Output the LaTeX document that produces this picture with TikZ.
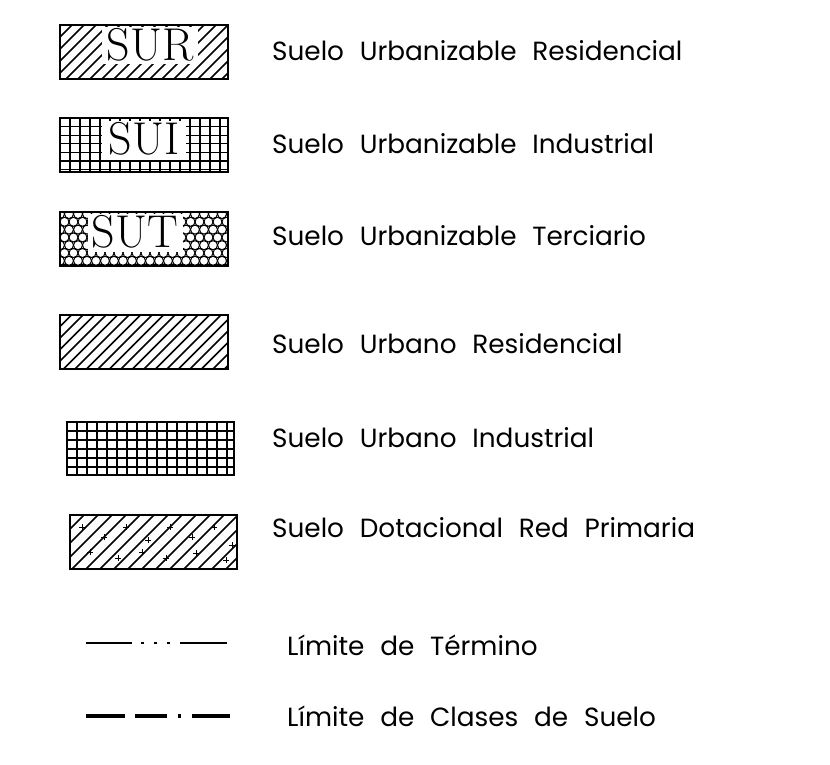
\documentclass[tikz,border=0pt]{standalone}
\usepackage{fontspec}
\newfontfamily\legfont{Poppins}
\tikzset{
  boxframe/.style={draw, line width=1.8pt},
  hatchline/.style={line width=1.5pt},
  gridline/.style={line width=1.2pt},
  legtext/.style={anchor=base west, inner sep=0pt, font=\legfont\fontsize{26.3}{30}\selectfont},
  codetext/.style={inner sep=0pt, font=\fontsize{46}{46}\selectfont},
  whitebox/.style={fill=white, draw=none},
  thinline/.style={line width=1.4pt},
  thickline/.style={line width=3.2pt}
}
% diagonal hatch: x0,y0,x1,y1,spacing
\newcommand\mydiag[5]{%
  \begin{scope}
    \clip (#1,#2) rectangle (#3,#4);
    \pgfmathsetmacro\hh{#4-#2}
    \pgfmathtruncatemacro\nn{(#3-#1+\hh)/#5+1}
    \foreach \k in {0,...,\nn}{
      \draw[hatchline] ({#1-\hh+\k*#5},#4) -- ++(\hh,-\hh);
    }
  \end{scope}}
% grid: x0,y0,x1,y1,dx,dy
\newcommand\mygrid[6]{%
  \begin{scope}
    \clip (#1,#2) rectangle (#3,#4);
    \pgfmathtruncatemacro\nx{(#3-#1)/#5+1}
    \pgfmathtruncatemacro\ny{(#4-#2)/#6+1}
    \foreach \k in {0,...,\nx}{\draw[gridline] ({#1+\k*#5},#2) -- ({#1+\k*#5},#4);}
    \foreach \k in {0,...,\ny}{\draw[gridline] (#1,{#2+\k*#6}) -- (#3,{#2+\k*#6});}
  \end{scope}}
\begin{document}
\begin{tikzpicture}[x=1pt,y=-1pt]
\useasboundingbox[fill=white] (0,0) rectangle (830,764);

% ---- SUR ----
\mydiag{60}{25}{228}{79}{12}
\fill[whitebox] (102,27) rectangle (198,64);
\node[codetext] (sur) at (150,45) {SUR};
\node[boxframe, minimum width=168pt, minimum height=54pt, inner sep=0pt] (b1) at (144,52) {};

% ---- SUI ----
\mygrid{60}{118}{228}{172}{10}{8.6}
\fill[whitebox] (102,121) rectangle (186,160);
\node[codetext] (sui) at (144,139) {SUI};
\node[boxframe, minimum width=168pt, minimum height=54pt, inner sep=0pt] (b2) at (144,145) {};

% ---- SUT ----
\begin{scope}
  \clip (60,212) rectangle (228,266);
  \foreach \r in {0,...,8}{
    \foreach \c in {0,...,20}{
      \pgfmathsetmacro\cx{60+\c*9+mod(\r,2)*4.5}
      \pgfmathsetmacro\cy{214+\r*7.8}
      \draw[line width=1pt] (\cx,\cy) circle (4.5);
    }
  }
\end{scope}
\fill[whitebox] (88,214) rectangle (183,252);
\node[codetext] (sut) at (135,232) {SUT};
\node[boxframe, minimum width=168pt, minimum height=54pt, inner sep=0pt] (b3) at (144,239) {};

% ---- Suelo Urbano Residencial ----
\mydiag{60}{315}{228}{369}{11.5}
\node[boxframe, minimum width=168pt, minimum height=54pt, inner sep=0pt] (b4) at (144,342) {};

% ---- Suelo Urbano Industrial ----
\mygrid{67}{422}{234}{475}{10}{9}
\node[boxframe, minimum width=167pt, minimum height=53pt, inner sep=0pt] (b5) at (150.5,448.5) {};

% ---- Suelo Dotacional Red Primaria ----
\mydiag{70}{515}{237}{569}{14}
\foreach \px/\py in {82/527,104/537,126/527,148/540,170/527,192/537,214/527,232/545,90/552,118/558,142/552,166/558,196/553,226/560}{
  \draw[line width=1pt] (\px-3,\py) -- (\px+3,\py) (\px,\py-3) -- (\px,\py+3);
}
\node[boxframe, minimum width=167pt, minimum height=54pt, inner sep=0pt] (b6) at (153.5,542) {};

% ---- line samples ----
\coordinate (l1a) at (86,643);
\coordinate (l1b) at (227,643);
\draw[thinline, dash pattern=on 46pt off 9pt on 3pt off 10pt on 3pt off 10pt on 3pt off 10pt on 47pt off 100pt] (l1a) -- (l1b);
\coordinate (l2a) at (86,716);
\coordinate (l2b) at (230,716);
\draw[thickline, dash pattern=on 39pt off 10pt on 32pt off 11pt on 3pt off 11pt on 38pt off 100pt] (l2a) -- (l2b);

% ---- texts ----
\node[legtext] (t1) at (272,60) {Suelo\hspace{0.6em}Urbanizable\hspace{0.6em}Residencial};
\node[legtext] (t2) at (272,153) {Suelo\hspace{0.6em}Urbanizable\hspace{0.6em}Industrial};
\node[legtext] (t3) at (272,245) {Suelo\hspace{0.6em}Urbanizable\hspace{0.6em}Terciario};
\node[legtext] (t4) at (272,353) {Suelo\hspace{0.6em}Urbano\hspace{0.6em}Residencial};
\node[legtext] (t5) at (272,447) {Suelo\hspace{0.6em}Urbano\hspace{0.6em}Industrial};
\node[legtext] (t6) at (272,537) {Suelo\hspace{0.6em}Dotacional\hspace{0.6em}Red\hspace{0.6em}Primaria};
\node[legtext] (t7) at (287,655) {Límite\hspace{0.6em}de\hspace{0.6em}Término};
\node[legtext] (t8) at (287,726) {Límite\hspace{0.6em}de\hspace{0.6em}Clases\hspace{0.6em}de\hspace{0.6em}Suelo};
\end{tikzpicture}
\end{document}
